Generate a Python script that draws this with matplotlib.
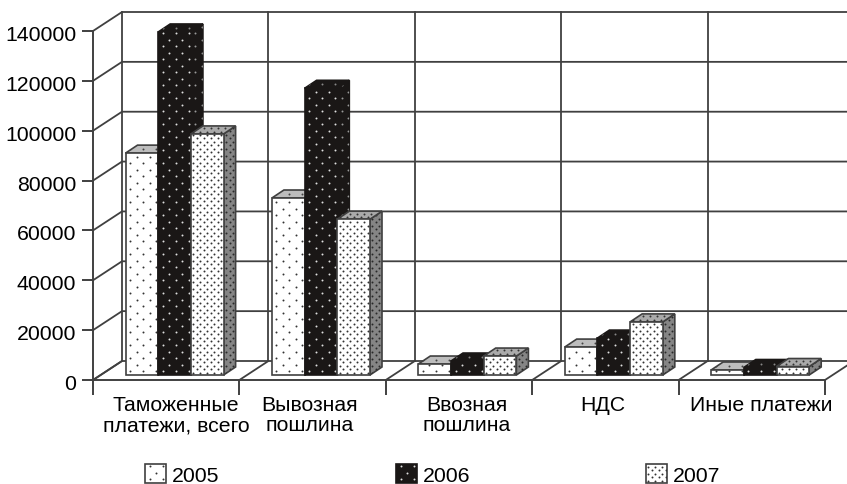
import numpy as np
import matplotlib
matplotlib.use("Agg")
import matplotlib.pyplot as plt
from matplotlib.patches import Polygon
from matplotlib.transforms import ScaledTranslation

plt.rcParams["font.family"] = ["Liberation Sans", "DejaVu Sans"]

categories = ["Таможенные\nплатежи, всего", "Вывозная\nпошлина", "Ввозная\nпошлина", "НДС", "Иные платежи"]
years = ["2005", "2006", "2007"]
v2005 = [89000, 71000, 4400, 11200, 2000]
v2006 = [137600, 115000, 5600, 14800, 3000]
v2007 = [96700, 62500, 7600, 21300, 3400]
yticks = [0, 20000, 40000, 60000, 80000, 100000, 120000, 140000]

W, H = 847, 485
LINE = "#404040"

# pixel sizes -> data units (x: one category = 146.4 px, y: 349 px = 140000)
PX = 1 / 146.4
PY = 140000 / 349

fig = plt.figure(figsize=(W / 100, H / 100), dpi=100)
ax = fig.add_axes([93 / W, (H - 381) / H, 732 / W, 349 / H])
ax.set_xlim(0, 5)
ax.set_ylim(0, 140000)
ax.patch.set_visible(False)
for s in ["top", "right"]:
    ax.spines[s].set_visible(False)
for s in ["left", "bottom"]:
    ax.spines[s].set_color(LINE)
    ax.spines[s].set_linewidth(1.4)

ax.set_yticks(yticks)
ax.set_xticks(range(6))
ax.set_xticklabels([])
ax.tick_params(axis="y", length=8, width=1.4, color=LINE, labelsize=15.3, pad=4)
ax.tick_params(axis="x", length=11, width=1.4, color=LINE)
for t in ax.get_yticklabels():
    t.set_transform(t.get_transform() + ScaledTranslation(0, -0.015, fig.dpi_scale_trans))

# walls and floor
wall_dx, wall_dy = 29 * PX, 19 * PY
for v in yticks:
    ax.plot([0, wall_dx, 5.2], [v, v + wall_dy, v + wall_dy], color=LINE, lw=1.3, clip_on=False, zorder=1)
for i in range(6):
    ax.plot([i, i + wall_dx], [0, wall_dy], color=LINE, lw=1.3, clip_on=False, zorder=1)
    if i < 5:
        ax.plot([i + wall_dx] * 2, [wall_dy, 140000 + wall_dy], color=LINE, lw=1.3, clip_on=False, zorder=1)


def face(pts, fill, dot, step, size=2.0, edge=LINE):
    # filled polygon with a staggered dot texture clipped to it
    z = face.z
    face.z += 0.01
    poly = Polygon(pts, closed=True, facecolor=fill, edgecolor=edge, lw=1.2, clip_on=False, zorder=z)
    ax.add_patch(poly)
    pts = np.array(pts)
    x0, y0 = pts.min(axis=0)
    x1, y1 = pts.max(axis=0)
    xs, ys = [], []
    for r, y in enumerate(np.arange(y0 + step * 0.3 * PY, y1, step / 2 * PY)):
        shift = 0 if r % 2 == 0 else step / 2 * PX
        for x in np.arange(x0 + step * 0.35 * PX + shift, x1, step * PX):
            xs.append(x)
            ys.append(y)
    dots = ax.scatter(xs, ys, s=size, color=dot, linewidths=0, clip_on=True, zorder=z + 0.001)
    dots.set_clip_path(poly)


face.z = 2.0

BLACK = "#1a1716"
styles = [
    dict(front=("white", "#333333", 13), top=("#bdbdbd", "#444444", 13), side=("#888888", "#333333", 7)),
    dict(front=(BLACK, "#e0e0e0", 13, 2.0, BLACK), top=(BLACK, "#888888", 13, 2.0, BLACK), side=(BLACK, "#999999", 13, 2.0, BLACK)),
    dict(front=("white", "#333333", 7), top=("#aaaaaa", "#333333", 7), side=("#858585", "#2a2a2a", 7)),
]
BAR_W = 32.7 * PX
BAR_OFF = 32.5 * PX
BASE = 5 * PY
DX, DY = 12 * PX, 8 * PY

for c in range(len(categories)):
    for k, vals in enumerate([v2005, v2006, v2007]):
        st = styles[k]
        x0 = c + BAR_OFF + k * BAR_W
        x1 = x0 + BAR_W
        y0 = BASE
        y1 = BASE + vals[c]
        face([(x1, y0), (x1 + DX, y0 + DY), (x1 + DX, y1 + DY), (x1, y1)], *st["side"])
        face([(x0, y1), (x1, y1), (x1 + DX, y1 + DY), (x0 + DX, y1 + DY)], *st["top"])
        face([(x0, y0), (x1, y0), (x1, y1), (x0, y1)], *st["front"])

label_x = [176, 310, 467, 603, 761]
for name, px in zip(categories, label_x):
    ax.text((px - 93) * PX, -15 * PY, name, ha="center", va="top", fontsize=15.3, linespacing=1.1, clip_on=False)

# legend
legend_x = [145, 396, 646]
for k, year in enumerate(years):
    lx0 = (legend_x[k] - 93) * PX
    lx1 = lx0 + 21 * PX
    face([(lx0, -84 * PY), (lx1, -84 * PY), (lx1, -103 * PY), (lx0, -103 * PY)], *styles[k]["front"])
    ax.text(lx1 + 6 * PX, -96 * PY, year, ha="left", va="center", fontsize=15.3, clip_on=False)

fig.savefig("out.png", dpi=100)
